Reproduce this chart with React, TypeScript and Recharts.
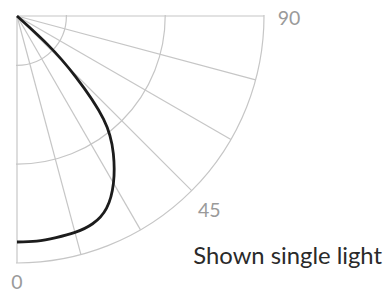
import { Curve, PolarAngleAxis, PolarGrid, PolarRadiusAxis, Radar, RadarChart } from "recharts";

// beam angle (deg, 0 = straight down) and relative intensity (1 = outer ring)
const ANGLES = [0, 5, 10, 15, 20, 25, 30, 35, 40, 44, 47, 50];
const INTENSITY = [0.915, 0.915, 0.911, 0.907, 0.895, 0.858, 0.781, 0.68, 0.545, 0.34, 0.17, 0];

const ANGLE_TICKS = [0, 15, 30, 45, 60, 75, 90];
const LABELED_ANGLES = [0, 45, 90];
const RING_TICKS = [0.2, 0.6, 1];
const NOTE = "Shown single light";

const data = ANGLES.map((angle, i) => ({ angle, r: INTENSITY[i] }));

const GRID = "#c6c6c6";
const FONT = "Lato, sans-serif";

function AngleTick(props: any) {
  const { x, y, payload } = props;
  if (!LABELED_ANGLES.includes(payload.value)) return null;
  // the 0 label sits a bit closer to the ring than the others
  const dy = payload.value === 0 ? -7 : 1;
  return (
    <text x={x} y={y + dy} textAnchor="middle" dominantBaseline="central" fill="#9a9a9a" fontSize={19.5} fontFamily={FONT}>
      {payload.value}
    </text>
  );
}

// open curve instead of radar's closed polygon
function OpenCurve(props: any) {
  return <Curve points={props.points} type="natural" stroke="#1c1c1c" strokeWidth={2.8} fill="none" />;
}

export default function App() {
  return (
    <div style={{ position: "absolute", left: 0, top: 0, width: 384, height: 292, background: "#fff" }}>
      <style>{`.recharts-polar-grid { clip-path: url(#quadrant); }`}</style>
      <RadarChart
        width={384}
        height={292}
        data={data}
        cx={17}
        cy={16}
        outerRadius={247}
        startAngle={-90}
        endAngle={0}
        margin={{ top: 0, right: 0, bottom: 0, left: 0 }}
      >
        <defs>
          <clipPath id="quadrant" clipPathUnits="userSpaceOnUse">
            <rect x={16} y={15} width={368} height={277} />
          </clipPath>
        </defs>
        <PolarGrid gridType="circle" stroke={GRID} strokeWidth={1.2} />
        <PolarAngleAxis
          dataKey="angle"
          type="number"
          domain={[0, 90]}
          ticks={ANGLE_TICKS as any}
          tick={AngleTick}
          tickLine={false}
          axisLine={false}
          tickSize={25}
        />
        <PolarRadiusAxis type="number" domain={[0, 1]} ticks={RING_TICKS as any} tick={false} axisLine={false} />
        <Radar dataKey="r" shape={OpenCurve} isAnimationActive={false} dot={false} />
        <text x={382} y={264} textAnchor="end" fill="#2a2a2a" fontSize={23.8} fontFamily={FONT}>
          {NOTE}
        </text>
      </RadarChart>
    </div>
  );
}
